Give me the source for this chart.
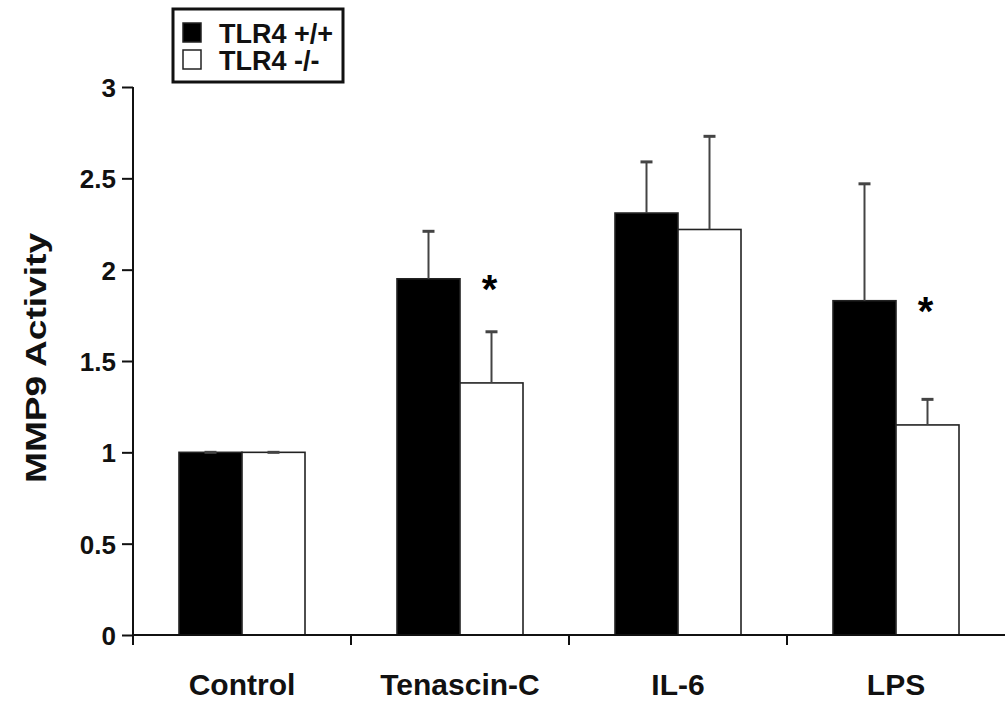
<!DOCTYPE html>
<html>
<head>
<meta charset="utf-8">
<script src="https://cdn.jsdelivr.net/npm/d3@7"></script>
<style>
  body { margin: 0; background: #fff; }
  svg { display: block; font-family: Arial, "Liberation Sans", sans-serif; font-weight: bold; }
</style>
</head>
<body>
<svg id="chart"></svg>
<script>
// data
const categories = ["Control", "Tenascin-C", "IL-6", "LPS"];
const seriesNames = ["TLR4 +/+", "TLR4 -/-"];
const wildType = [1.0, 1.95, 2.31, 1.83];
const wildTypeErr = [0, 0.26, 0.28, 0.64];
const knockout = [1.0, 1.38, 2.22, 1.15];
const knockoutErr = [0, 0.28, 0.51, 0.14];
const significant = [false, true, false, true];
const yTicks = [0, 0.5, 1, 1.5, 2, 2.5, 3];
const y_label = "MMP9 Activity";

const width = 1005,
  height = 702;
const margin = { left: 133, right: 0, top: 87, bottom: 67 };

const svg = d3
  .select("#chart")
  .attr("width", width)
  .attr("height", height);

const x_scale = d3
  .scaleBand()
  .domain(categories)
  .range([margin.left, width - margin.right])
  .paddingInner(0.422)
  .paddingOuter(0.211);

const sub_scale = d3
  .scaleBand()
  .domain(seriesNames)
  .range([0, x_scale.bandwidth()]);

const y_scale = d3
  .scaleLinear()
  .domain([0, 3])
  .range([height - margin.bottom, margin.top]);

// build rows for bars
const rows = [];
categories.forEach((c, i) => {
  rows.push({ cat: c, series: seriesNames[0], value: wildType[i], err: wildTypeErr[i] });
  rows.push({ cat: c, series: seriesNames[1], value: knockout[i], err: knockoutErr[i] });
});
const fillFor = (s) => (s === seriesNames[0] ? "#000" : "#fff");

// bars
svg
  .append("g")
  .selectAll("rect")
  .data(rows)
  .join("rect")
  .attr("x", (d) => x_scale(d.cat) + sub_scale(d.series))
  .attr("y", (d) => y_scale(d.value))
  .attr("width", sub_scale.bandwidth())
  .attr("height", (d) => y_scale(0) - y_scale(d.value))
  .attr("fill", (d) => fillFor(d.series))
  .attr("stroke", "#222")
  .attr("stroke-width", 1.6);

// error bars (upper only)
const errG = svg.append("g").attr("stroke", "#444");
const cx = (d) => x_scale(d.cat) + sub_scale(d.series) + sub_scale.bandwidth() / 2;
errG
  .selectAll("line.v")
  .data(rows)
  .join("line")
  .attr("class", "v")
  .attr("x1", cx)
  .attr("x2", cx)
  .attr("y1", (d) => y_scale(d.value))
  .attr("y2", (d) => y_scale(d.value + d.err))
  .attr("stroke-width", 2);
errG
  .selectAll("line.cap")
  .data(rows)
  .join("line")
  .attr("class", "cap")
  .attr("x1", (d) => cx(d) - 6)
  .attr("x2", (d) => cx(d) + 6)
  .attr("y1", (d) => y_scale(d.value + d.err))
  .attr("y2", (d) => y_scale(d.value + d.err))
  .attr("stroke-width", 3);

// significance stars next to the black bar top, over the white bar
svg
  .append("g")
  .selectAll("text")
  .data(categories.filter((c, i) => significant[i]))
  .join("text")
  .attr("x", (c) => x_scale(c) + sub_scale(seriesNames[1]) + sub_scale.bandwidth() / 2 - 2)
  .attr("y", (c) => y_scale(wildType[categories.indexOf(c)]) + 24)
  .attr("text-anchor", "middle")
  .style("font-size", "40px")
  .text("*");

// y axis
const y_axis = d3
  .axisLeft(y_scale)
  .tickValues(yTicks)
  .tickFormat((d) => d)
  .tickSize(11)
  .tickPadding(6);

const yG = svg
  .append("g")
  .attr("transform", `translate(${margin.left},0)`)
  .call(y_axis);
yG.select(".domain").attr("d", `M0,${y_scale(3)}V${y_scale(0) + 10}`);
yG.selectAll("line, path").attr("stroke", "#111").attr("stroke-width", 2);
yG.selectAll("text")
  .attr("fill", "#111")
  .style("font-size", "26px")
  .style("font-family", 'Arial, "Liberation Sans", sans-serif')
  .style("font-weight", "bold")
  .attr("dy", "0.36em");

// x axis
const x_axis = d3
  .axisBottom(x_scale)
  .tickSize(0)
  .tickPadding(39);

const xG = svg
  .append("g")
  .attr("transform", `translate(0,${y_scale(0)})`)
  .call(x_axis);
xG.select(".domain")
  .attr("d", `M${margin.left},0H${width}`)
  .attr("stroke", "#111")
  .attr("stroke-width", 2);
xG.selectAll("text")
  .attr("fill", "#111")
  .style("font-size", "30px")
  .style("font-family", 'Arial, "Liberation Sans", sans-serif')
  .style("font-weight", "bold");

// boundary ticks between groups
const step = x_scale.step();
xG.selectAll("line.sep")
  .data(categories)
  .join("line")
  .attr("class", "sep")
  .attr("x1", (c) => x_scale(c) - x_scale.paddingOuter() * step)
  .attr("x2", (c) => x_scale(c) - x_scale.paddingOuter() * step)
  .attr("y1", 0)
  .attr("y2", 10)
  .attr("stroke", "#111")
  .attr("stroke-width", 2);

// y label
svg
  .append("text")
  .attr("transform", `translate(46, ${(233 + 483) / 2}) rotate(-90)`)
  .attr("text-anchor", "middle")
  .attr("textLength", 250)
  .attr("lengthAdjust", "spacingAndGlyphs")
  .style("font-size", "30px")
  .attr("fill", "#111")
  .text(y_label);

// legend
const legend = svg.append("g");
legend
  .append("rect")
  .attr("x", 173)
  .attr("y", 9)
  .attr("width", 170)
  .attr("height", 73)
  .attr("fill", "#fff")
  .attr("stroke", "#111")
  .attr("stroke-width", 3);

const items = legend
  .selectAll("g.item")
  .data(seriesNames)
  .join("g")
  .attr("class", "item")
  .attr("transform", (d, i) => `translate(183, ${23 + i * 27})`);

items
  .append("rect")
  .attr("width", 18)
  .attr("height", 19)
  .attr("fill", (d) => fillFor(d))
  .attr("stroke", "#222")
  .attr("stroke-width", 1.5);

items
  .append("text")
  .attr("x", 36)
  .attr("y", 20)
  .style("font-size", "27px")
  .attr("fill", "#111")
  .text((d) => d);
</script>
</body>
</html>
